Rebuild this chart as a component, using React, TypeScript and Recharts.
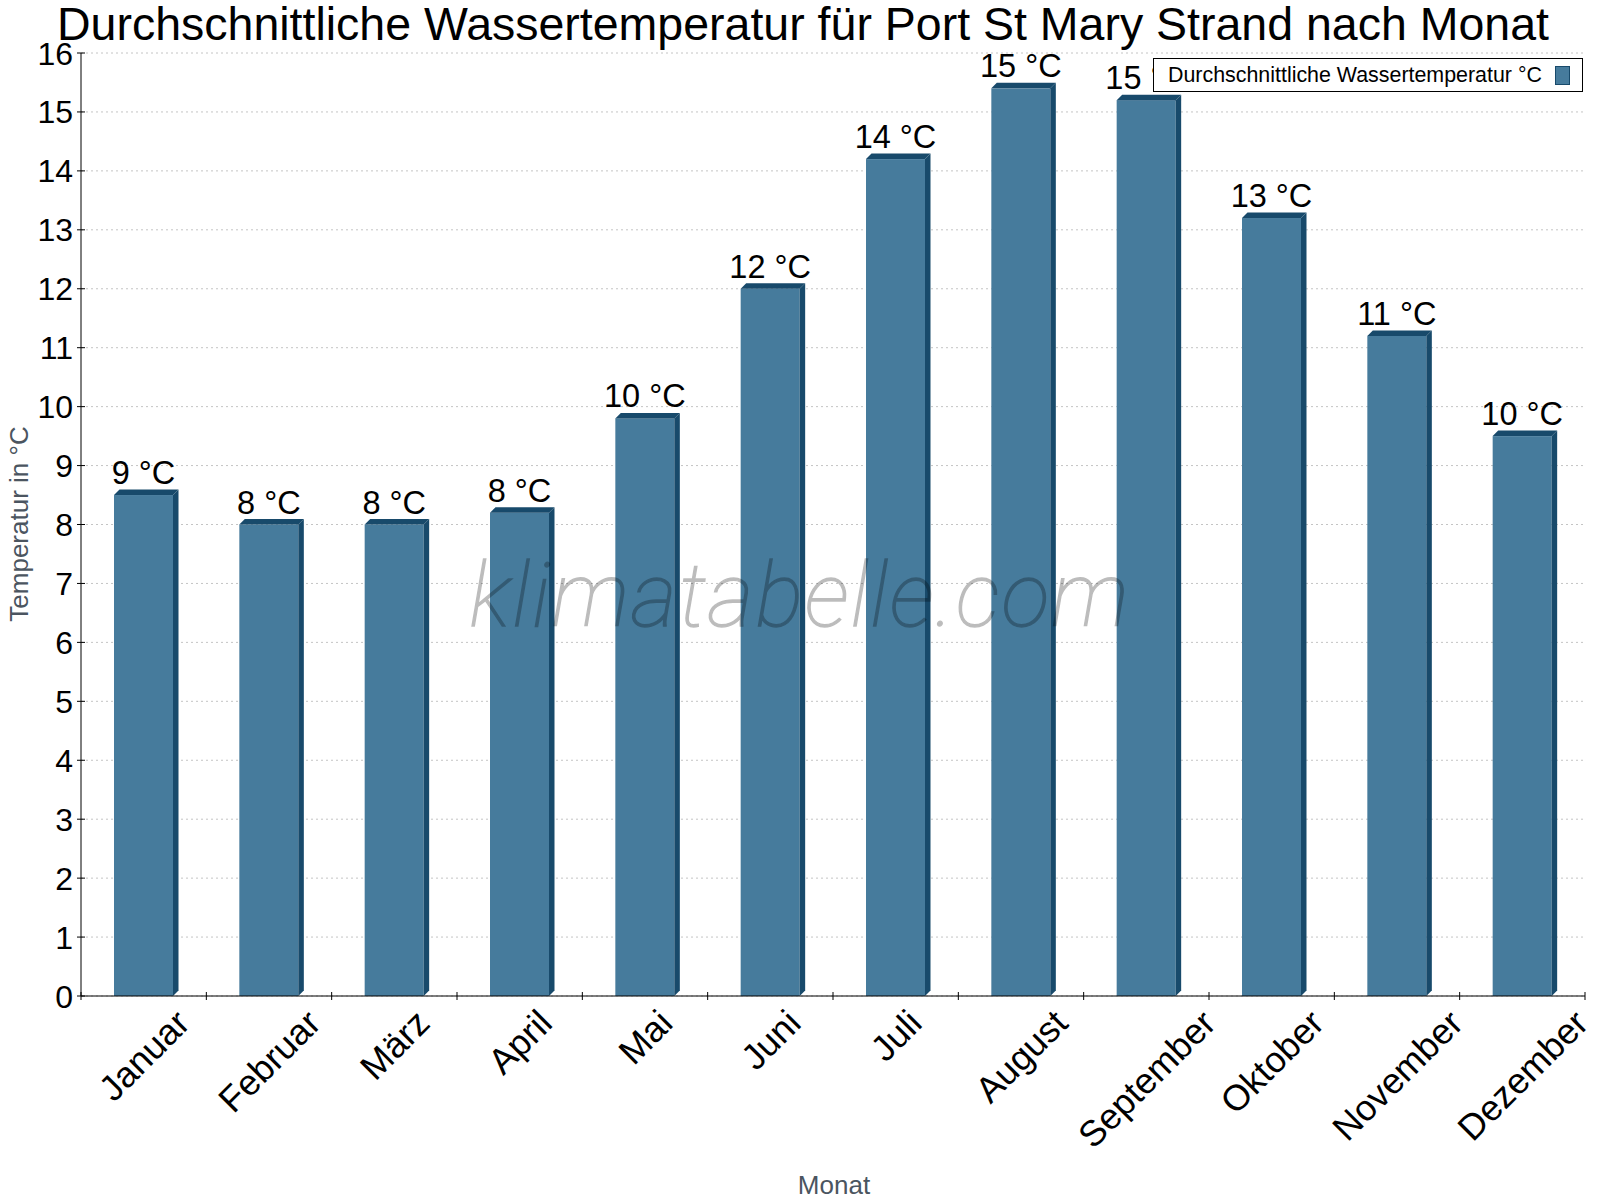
import React from 'react';
import { BarChart, Bar, XAxis, YAxis, CartesianGrid, LabelList, Legend } from 'recharts';

const months = ['Januar', 'Februar', 'März', 'April', 'Mai', 'Juni', 'Juli', 'August', 'September', 'Oktober', 'November', 'Dezember'];
const waterTemp = [8.5, 8.0, 8.0, 8.2, 9.8, 12.0, 14.2, 15.4, 15.2, 13.2, 11.2, 9.5];
const yTicks = [0, 1, 2, 3, 4, 5, 6, 7, 8, 9, 10, 11, 12, 13, 14, 15, 16];
const seriesName = 'Durchschnittliche Wassertemperatur °C';
const titleText = 'Durchschnittliche Wassertemperatur für Port St Mary Strand nach Monat';
const yTitle = 'Temperatur in °C';
const xTitle = 'Monat';
const watermark = 'klimatabelle.com';

const data = months.map((m, i) => ({ month: m, temp: waterTemp[i] }));

const W = 1600;
const H = 1200;
const M_TOP = 53;
const M_RIGHT = 15;
const Y_AXIS_W = 81;
const X_AXIS_H = 204;
const PLOT_W = W - Y_AXIS_W - M_RIGHT;
const FONT = '"Liberation Sans", Arial, Helvetica, sans-serif';
const FRONT = '#467b9c';
const DARK = '#184a6b';
const DEPTH = 5.5;
const LEGEND_BOX = { left: 1153, top: 58, width: 430, height: 34 };

let ctx: CanvasRenderingContext2D | null = null;
function textWidth(s: string, font: string): number {
  if (!ctx) ctx = document.createElement('canvas').getContext('2d');
  if (!ctx) return s.length * 18;
  ctx.font = font;
  return ctx.measureText(s).width;
}

const Bar3D = (props: any) => {
  const { x, y, width, height } = props;
  if (height == null || height <= 0) return null;
  const d = DEPTH;
  const top = `${x},${y} ${x + d},${y - d} ${x + width + d},${y - d} ${x + width},${y}`;
  const side = `${x + width},${y} ${x + width + d},${y - d} ${x + width + d},${y + height - d} ${x + width},${y + height}`;
  return (
    <g>
      <rect x={x} y={y} width={width} height={height} fill={FRONT} />
      <polygon points={top} fill={DARK} />
      <polygon points={side} fill={DARK} />
    </g>
  );
};

const renderLabel = (props: any) => {
  const vb = props.viewBox || props;
  const x = vb.x ?? props.x;
  const y = vb.y ?? props.y;
  const width = vb.width ?? props.width;
  const value = props.value;
  const text = `${Math.round(Number(value))} °C`;
  return (
    <text x={x + width / 2} y={y - 11} textAnchor="middle" fontSize={32.5} fontFamily={FONT} fill="#000">
      {text}
    </text>
  );
};

const XTick = (props: any) => {
  const { x, y, payload, index } = props;
  const band = PLOT_W / months.length;
  const fs = 36;
  const label = String(payload.value);
  const L = textWidth(label, `${fs}px "Liberation Sans"`);
  const cy = y + 11 + 0.354 * (L + 0.72 * fs);
  return (
    <g>
      <line x1={x - band / 2} x2={x - band / 2} y1={y - 4} y2={y + 4} stroke="#000" strokeWidth={1} />
      {index === months.length - 1 && (
        <line x1={x + band / 2} x2={x + band / 2} y1={y - 4} y2={y + 4} stroke="#000" strokeWidth={1} />
      )}
      <text
        x={x}
        y={cy}
        dy="0.36em"
        textAnchor="middle"
        transform={`rotate(-45 ${x} ${cy})`}
        fontSize={fs}
        fontFamily={FONT}
        fill="#000"
      >
        {label}
      </text>
    </g>
  );
};

const YTick = (props: any) => {
  const { x, y, payload } = props;
  return (
    <g>
      <line x1={x - 4} x2={x + 4} y1={y} y2={y} stroke="#000" strokeWidth={1} />
      <text x={x - 8} y={y} dy="0.36em" textAnchor="end" fontSize={32} fontFamily={FONT} fill="#000">
        {payload.value}
      </text>
    </g>
  );
};

const LegendContent = () => (
  <div
    style={{
      boxSizing: 'border-box',
      width: LEGEND_BOX.width,
      height: LEGEND_BOX.height,
      border: '1.5px solid #000',
      background: '#fff',
      display: 'flex',
      alignItems: 'center',
      justifyContent: 'space-between',
      padding: '0 12px 0 14px',
      fontFamily: FONT,
      fontSize: 21.4,
      color: '#000',
      whiteSpace: 'nowrap',
    }}
  >
    <span>{seriesName}</span>
    <span style={{ display: 'inline-block', width: 13, height: 17, background: FRONT, border: `1px solid ${DARK}` }} />
  </div>
);

export default function App() {
  return (
    <div style={{ position: 'absolute', left: 0, top: 0, width: W, height: H, background: '#fff', fontFamily: FONT }}>
      <BarChart
        width={W}
        height={H}
        data={data}
        margin={{ top: M_TOP, right: M_RIGHT, bottom: 0, left: 0 }}
        barSize={59}
      >
        <CartesianGrid horizontal vertical={false} stroke="#c4c4c4" strokeDasharray="2 3" />
        <XAxis
          dataKey="month"
          height={X_AXIS_H}
          interval={0}
          tickLine={false}
          tickSize={0}
          tickMargin={0}
          axisLine={{ stroke: '#000', strokeWidth: 1 }}
          tick={<XTick />}
        />
        <YAxis
          width={Y_AXIS_W}
          domain={[0, 16]}
          ticks={yTicks}
          interval={0}
          tickLine={false}
          tickSize={0}
          tickMargin={0}
          axisLine={{ stroke: '#000', strokeWidth: 1 }}
          tick={<YTick />}
        />
        <YAxis
          yAxisId="right"
          orientation="right"
          width={0}
          domain={[0, 16]}
          tick={false}
          tickLine={false}
          axisLine={{ stroke: '#000', strokeWidth: 1.5 }}
        />
        <Legend
          layout="horizontal"
          verticalAlign="middle"
          align="center"
          wrapperStyle={{ left: LEGEND_BOX.left, top: LEGEND_BOX.top, width: LEGEND_BOX.width, height: LEGEND_BOX.height }}
          content={<LegendContent />}
        />
        <Bar dataKey="temp" name={seriesName} fill={FRONT} shape={<Bar3D />} isAnimationActive={false}>
          <LabelList dataKey="temp" content={renderLabel} />
        </Bar>
      </BarChart>
      <svg width={W} height={H} style={{ position: 'absolute', left: 0, top: 0, pointerEvents: 'none' }}>
        <text x={803} y={40} textAnchor="middle" fontSize={46.5} fontFamily={FONT} fill="#000">
          {titleText}
        </text>
        <text
          x={28}
          y={524}
          textAnchor="middle"
          transform="rotate(-90 28 524)"
          fontSize={26}
          fontFamily={FONT}
          fill="#4b5560"
        >
          {yTitle}
        </text>
        <text x={834} y={1194} textAnchor="middle" fontSize={26} fontFamily={FONT} fill="#4b5560">
          {xTitle}
        </text>
        <g opacity={0.26}>
          <text
            x={800}
            y={626}
            textAnchor="middle"
            fontSize={89}
            letterSpacing={2}
            fontFamily="Roboto, sans-serif"
            fontStyle="italic"
            fontWeight={100}
            fill="#000"
            stroke="#000"
            strokeWidth={1.3}
          >
            {watermark}
          </text>
        </g>
      </svg>
    </div>
  );
}
